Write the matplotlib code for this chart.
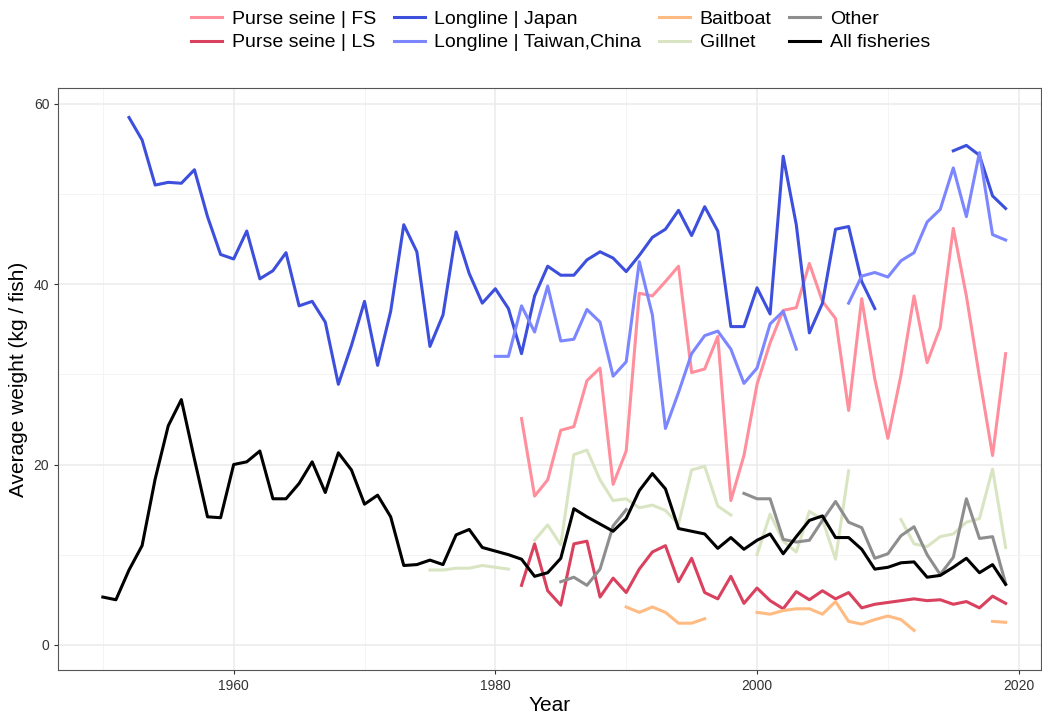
import numpy as np
import matplotlib.pyplot as plt

plt.rcParams['font.family'] = ['Liberation Sans', 'DejaVu Sans']
nan = np.nan
years = np.arange(1950, 2020)

def series(start, vals):
    a = np.full(len(years), nan)
    for i, v in enumerate(vals):
        a[start - 1950 + i] = v
    return a

fs = series(1982, [25.1,16.5,18.3,23.8,24.2,29.3,30.7,17.8,21.5,39,38.7,40.3,42,30.2,30.6,34.2,16,21,28.9,33.5,37.1,37.4,42.3,38.1,36.2,26,38.4,29.5,22.9,29.9,38.7,31.3,35.2,46.2,38.7,29.7,21,32.3])
ls = series(1982, [6.6,11.2,6,4.4,11.2,11.5,5.3,7.4,5.8,8.4,10.3,11,7,9.6,5.8,5.1,7.6,4.6,6.3,4.9,4,5.9,5,6,5.1,5.8,4.1,4.5,4.7,4.9,5.1,4.9,5,4.5,4.8,4.1,5.4,4.6])
japan = series(1952, [58.5,56,51,51.3,51.2,52.7,47.5,43.3,42.8,45.9,40.6,41.5,43.5,37.6,38.1,35.8,28.9,33.2,38.1,31,37,46.6,43.6,33.1,36.6,45.8,41.2,37.9,39.5,37.3,32.3,38.7,42,41,41,42.7,43.6,42.9,41.4,43.2,45.2,46.1,48.2,45.4,48.6,45.9,35.3,35.3,39.6,36.7,54.2,46.6,34.6,37.9,46.1,46.4,40.3,37.3,nan,nan,nan,nan,nan,54.8,55.4,54.3,49.8,48.4])
taiwan = series(1980, [32,32,37.6,34.7,39.8,33.7,33.9,37.2,35.8,29.8,31.4,42.5,36.6,24,28,32.3,34.3,34.8,32.8,29,30.7,35.6,37,32.8,nan,nan,nan,37.9,40.9,41.3,40.8,42.6,43.5,46.9,48.3,52.9,47.5,54.6,45.5,44.9])
bait = series(1990, [4.2,3.6,4.2,3.6,2.4,2.4,2.9,nan,nan,nan,3.6,3.4,3.8,4,4,3.4,4.8,2.6,2.3,2.8,3.2,2.8,1.6,nan,nan,nan,nan,nan,2.6,2.5])
gill = series(1975, [8.3,8.3,8.5,8.5,8.8,8.6,8.4,nan,11.6,13.3,11.1,21.1,21.6,18.3,16,16.2,15.2,15.5,14.9,13.4,19.4,19.8,15.4,14.4,nan,10,14.5,11.5,10.3,14.8,13.9,9.5,19.3,nan,nan,nan,13.9,11.2,10.9,12,12.3,13.6,14,19.5,10.8])
other = series(1985, [7,7.5,6.6,8.4,13.2,15,nan,nan,nan,nan,nan,nan,nan,nan,16.8,16.2,16.2,11.7,11.4,11.6,13.8,15.9,13.6,13,9.6,10.1,12.1,13.1,10,7.8,9.7,16.2,11.8,12,6.8])
allf = series(1950, [5.3,5,8.3,11,18.4,24.3,27.2,20.6,14.2,14.1,20,20.3,21.5,16.2,16.2,17.9,20.3,16.9,21.3,19.4,15.6,16.6,14.2,8.8,8.9,9.4,8.9,12.2,12.8,10.8,10.4,10,9.5,7.6,8,9.6,15.1,14.2,13.4,12.6,14,17.1,19,17.3,12.9,12.6,12.3,10.7,11.9,10.6,11.6,12.3,10.1,12,13.8,14.3,11.9,11.9,10.6,8.4,8.6,9.1,9.2,7.5,7.7,8.6,9.6,8,8.9,6.7])

names = ["Purse seine | FS","Purse seine | LS","Longline | Japan","Longline | Taiwan,China","Baitboat","Gillnet","Other","All fisheries"]
data = [fs, ls, japan, taiwan, bait, gill, other, allf]
colors = ["#FF8F9D","#D9415E","#3D4FDD","#7B86FF","#FFBB82","#D9E5C2","#8E8E8E","#000000"]

fig = plt.figure(figsize=(10.42,7.21), dpi=100)
ax = fig.add_axes([0.056, 0.071, 0.943, 0.807])
for n, d, c in zip(names, data, colors):
    ax.plot(years, d, color=c, lw=2.2, label=n)
ax.set_xlim(1946.6, 2021.7)
ax.set_ylim(-2.77, 61.77)
ax.set_xticks([1960,1980,2000,2020])
ax.set_yticks([0,20,40,60])
ax.set_xticks(np.arange(1950,2030,10), minor=True)
ax.set_yticks([10,30,50], minor=True)
ax.grid(True, which='major', color='#EBEBEB', lw=1.1)
ax.grid(True, which='minor', color='#F3F3F3', lw=0.6)
ax.set_axisbelow(True)
for s in ax.spines.values():
    s.set_color('#555555')
ax.tick_params(which='both', colors='#333333', labelsize=10, length=3)
ax.tick_params(which='minor', length=0)
ax.set_xlabel("Year", fontsize=15, labelpad=2)
ax.set_ylabel("Average weight (kg / fish)", fontsize=15)
fig.legend(loc='upper center', bbox_to_anchor=(0.538, 1.01), ncol=4, frameon=False,
           fontsize=14, handlelength=1.6, columnspacing=0.9, labelspacing=0.3, handletextpad=0.5)
fig.savefig("out.png")
